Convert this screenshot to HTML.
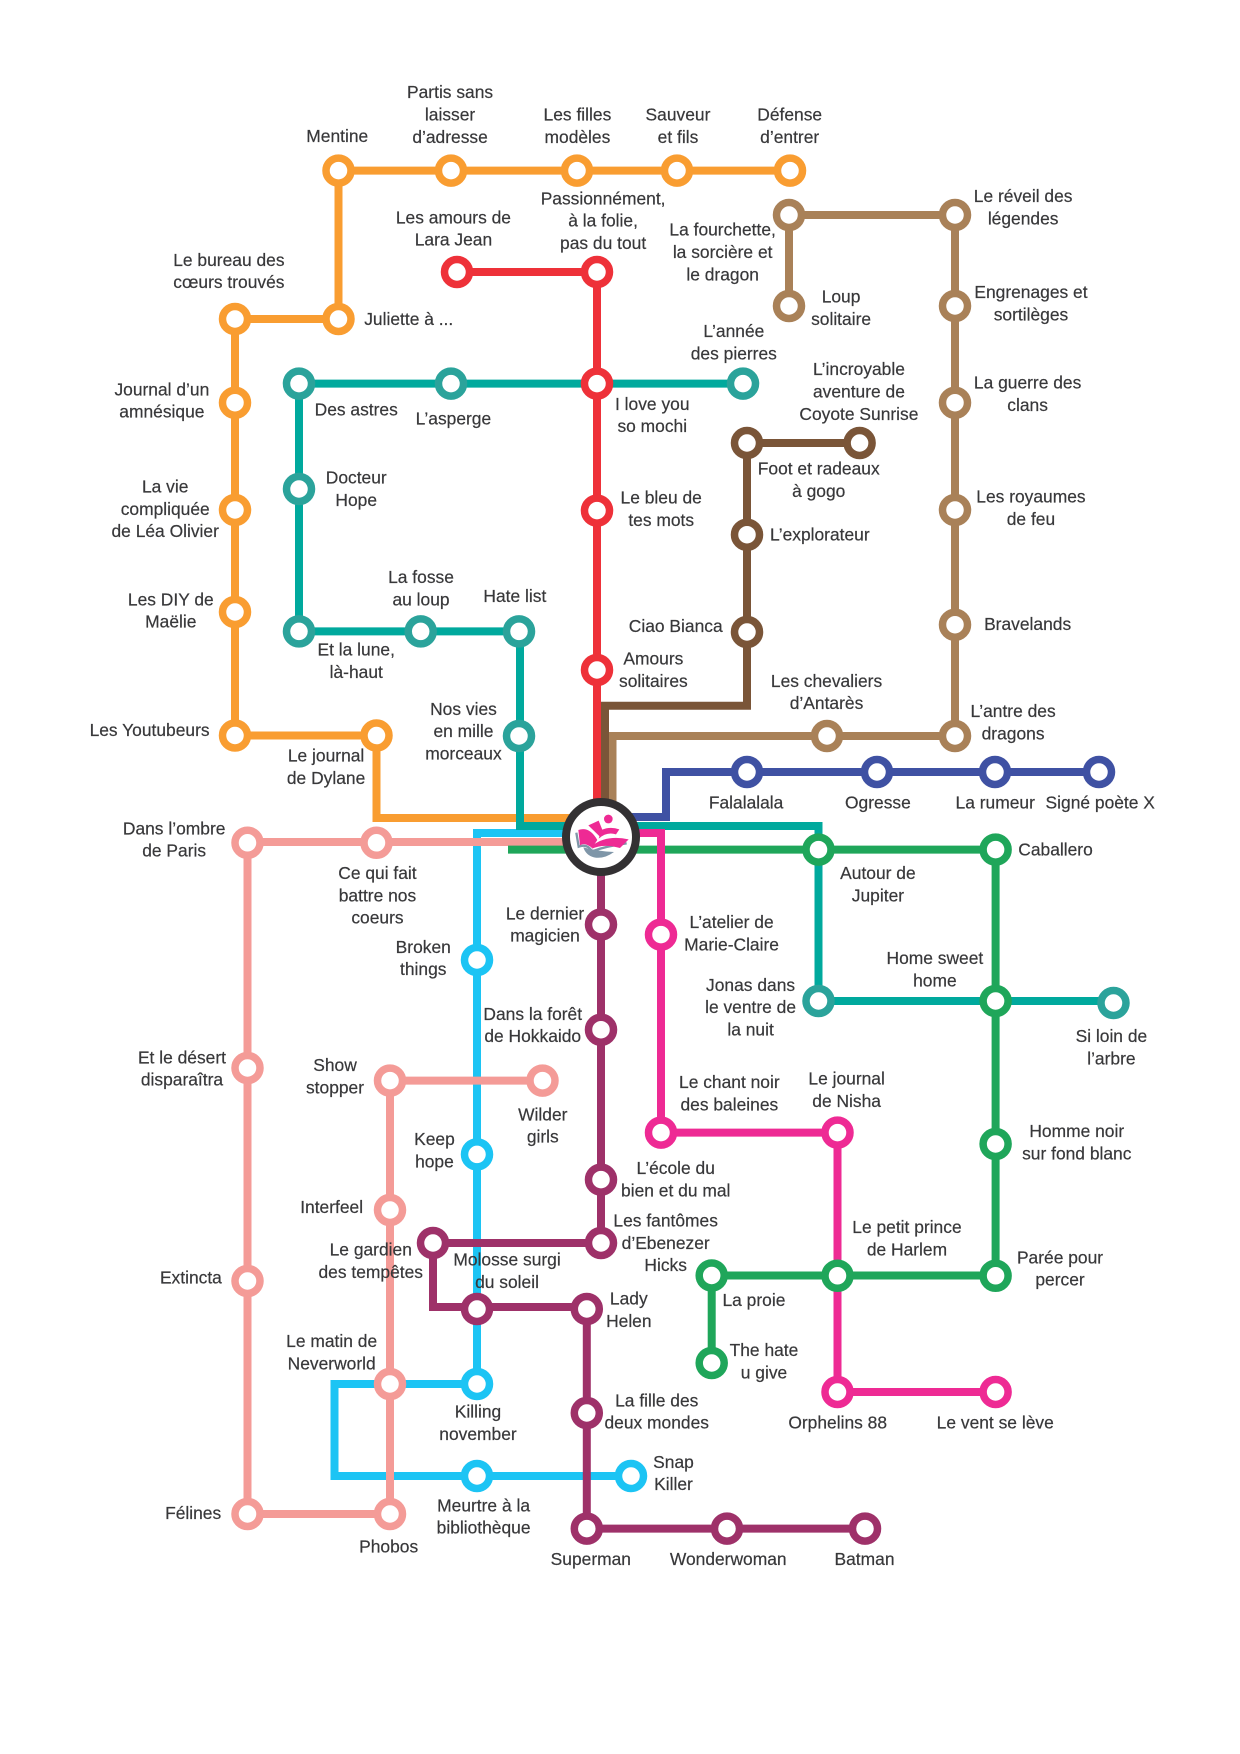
<!DOCTYPE html>
<html lang="fr">
<head>
<meta charset="utf-8">
<title>Plan de lecture</title>
<style>
html,body{margin:0;padding:0;background:#fff}
svg{display:block}
text{font-family:"Liberation Sans",sans-serif;font-size:15.6px;fill:#38383a;stroke:#38383a;stroke-width:.18px;text-anchor:middle}
.l{fill:none;stroke-width:8;stroke-linejoin:miter}
.n{fill:#fff;stroke-width:7.5}
</style>
</head>
<body>
<svg xmlns="http://www.w3.org/2000/svg" width="1240" height="1754" viewBox="0 0 1240 1754">
<!-- lines -->
<g class="l">
<path stroke="#1cc4f4" class="l" d="M570 833H477V1384H334.500V1476H631"/>
<path stroke="#f49b97" class="l" d="M570 842H247.500V1514H390V1080.600H542.500"/>
<path stroke="#f99d31" class="l" d="M790 170.600H338.500V319H235V735.500H376.500V818H570"/>
<path stroke="#ee3139" class="l" d="M457 272H597V800"/>
<path stroke="#00a99d" class="l" d="M743 383.600H299V631.400H520V826H570"/>
<path stroke="#a98158" class="l" d="M789 306V215H955V736H612.500V810"/>
<path stroke="#7a5538" class="l" d="M859.600 443H747V705.800H605V810"/>
<path stroke="#3f51a3" class="l" d="M1099 772H666V817H630"/>
<path stroke="#00a99d" class="l" d="M630 826H818.500V1001H1113.500"/>
<path stroke="#1fa65a" class="l" d="M630 849.600H995.600V1275.500H711.700V1363"/>
<path stroke="#1fa65a" class="l" d="M570 849.600H508"/>
<path stroke="#ee2a94" class="l" d="M630 833H661V1132.600H837.500V1392H995.600"/>
<path stroke="#9e3169" class="l" d="M601 870V1243H433V1307H586.800V1528.600H865"/>
</g>
<!-- stations -->
<g class="n" stroke="#f99d31">
<circle cx="338.500" cy="170.600" r="12.500"/><circle cx="451" cy="170.600" r="12.500"/><circle cx="577" cy="170.600" r="12.500"/><circle cx="677" cy="170.600" r="12.500"/><circle cx="790" cy="170.600" r="12.500"/>
<circle cx="338.500" cy="319" r="12.500"/><circle cx="235" cy="319" r="12.500"/><circle cx="235" cy="402.700" r="12.500"/><circle cx="235" cy="510" r="12.500"/><circle cx="235" cy="612" r="12.500"/><circle cx="235" cy="735.500" r="12.500"/><circle cx="376.500" cy="735.500" r="12.500"/>
</g>
<g class="n" stroke="#ee3139">
<circle cx="457" cy="272" r="12.500"/><circle cx="597" cy="272" r="12.500"/><circle cx="597" cy="383.600" r="12.500"/><circle cx="597" cy="510.600" r="12.500"/><circle cx="597" cy="670" r="12.500"/>
</g>
<g class="n" stroke="#2ba39b">
<circle cx="299" cy="383.600" r="12.500"/><circle cx="451" cy="383.600" r="12.500"/><circle cx="743" cy="383.600" r="12.500"/><circle cx="299" cy="489" r="12.500"/><circle cx="299" cy="631.400" r="12.500"/><circle cx="420.700" cy="631.400" r="12.500"/><circle cx="519" cy="631.400" r="12.500"/><circle cx="519" cy="736" r="12.500"/>
<circle cx="818.500" cy="1001" r="12.500"/><circle cx="1113.500" cy="1003" r="12.500"/>
</g>
<g class="n" stroke="#a98158">
<circle cx="789" cy="215" r="12.500"/><circle cx="955" cy="215" r="12.500"/><circle cx="789" cy="306" r="12.500"/><circle cx="955" cy="306" r="12.500"/><circle cx="955" cy="402.700" r="12.500"/><circle cx="955" cy="510" r="12.500"/><circle cx="955" cy="624.700" r="12.500"/><circle cx="955" cy="736" r="12.500"/><circle cx="827" cy="736" r="12.500"/>
</g>
<g class="n" stroke="#7a5538">
<circle cx="747" cy="443" r="12.500"/><circle cx="859.600" cy="443" r="12.500"/><circle cx="747" cy="534.700" r="12.500"/><circle cx="747" cy="632" r="12.500"/>
</g>
<g class="n" stroke="#3f51a3">
<circle cx="747" cy="772" r="12.500"/><circle cx="877" cy="772" r="12.500"/><circle cx="995" cy="772" r="12.500"/><circle cx="1099" cy="772" r="12.500"/>
</g>
<g class="n" stroke="#1fa65a">
<circle cx="818.500" cy="849.600" r="12.500"/><circle cx="995.600" cy="849.600" r="12.500"/><circle cx="995.600" cy="1001" r="12.500"/><circle cx="995.600" cy="1144" r="12.500"/><circle cx="995.600" cy="1275.800" r="12.500"/><circle cx="837.500" cy="1275.800" r="12.500"/><circle cx="711.700" cy="1275.500" r="12.500"/><circle cx="711.700" cy="1363" r="12.500"/>
</g>
<g class="n" stroke="#ee2a94">
<circle cx="661" cy="934.600" r="12.500"/><circle cx="661" cy="1132.600" r="12.500"/><circle cx="837.500" cy="1132.600" r="12.500"/><circle cx="837.500" cy="1392" r="12.500"/><circle cx="995.600" cy="1392" r="12.500"/>
</g>
<g class="n" stroke="#f49b97">
<circle cx="247.500" cy="842.800" r="12.500"/><circle cx="376.500" cy="842.800" r="12.500"/><circle cx="247.500" cy="1068" r="12.500"/><circle cx="247.500" cy="1281" r="12.500"/><circle cx="247.500" cy="1514" r="12.500"/><circle cx="390" cy="1514" r="12.500"/><circle cx="390" cy="1384" r="12.500"/><circle cx="390" cy="1210" r="12.500"/><circle cx="390" cy="1080.600" r="12.500"/><circle cx="542.500" cy="1080.600" r="12.500"/>
</g>
<g class="n" stroke="#1cc4f4">
<circle cx="477" cy="960" r="12.500"/><circle cx="477" cy="1154.400" r="12.500"/><circle cx="477" cy="1384" r="12.500"/><circle cx="477" cy="1476" r="12.500"/><circle cx="631" cy="1476" r="12.500"/>
</g>
<g class="n" stroke="#9e3169">
<circle cx="601" cy="924.500" r="12.500"/><circle cx="601" cy="1029.700" r="12.500"/><circle cx="601" cy="1179.600" r="12.500"/><circle cx="601" cy="1243" r="12.500"/><circle cx="433" cy="1243" r="12.500"/><circle cx="477" cy="1309" r="12.500"/><circle cx="586.800" cy="1309" r="12.500"/><circle cx="586.800" cy="1413" r="12.500"/><circle cx="586.800" cy="1528.600" r="12.500"/><circle cx="727" cy="1528.600" r="12.500"/><circle cx="865" cy="1528.600" r="12.500"/>
</g>
<!-- hub -->
<circle cx="601" cy="837" r="35" fill="#fff" stroke="#333133" stroke-width="8"/>
<g transform="translate(500 740) scale(.33333)">
<path d="M229 278L236 320Q262 310 276 334Q320 318 380 310" fill="none" stroke="#7f96a8" stroke-width="7"/>
<path d="M250 322Q295 334 342 336Q312 358 282 352Q258 346 250 322Z" fill="#7f96a8"/>
<path d="M265 256L296 242L308 272L302 292Z" fill="#ee2a94"/>
<path d="M235 270Q268 258 292 300L276 324Q255 306 240 316Z" fill="#ee2a94"/>
<path d="M278 316Q320 284 386 298L360 324Q310 310 276 326Z" fill="#ee2a94"/>
<path d="M304 270Q330 258 358 268L348 283Q320 274 296 296Z" fill="#ee2a94"/>
<circle cx="325" cy="237" r="13" fill="#ee2a94"/>
</g>
<!-- labels -->
<g transform="translate(1 1) scale(1.1171)">
<text x="301" y="126">Mentine</text>
<text x="402" y="87">Partis sans</text><text x="402" y="107">laisser</text><text x="402" y="127">d’adresse</text>
<text x="516" y="107">Les filles</text><text x="516" y="127">modèles</text>
<text x="606" y="107">Sauveur</text><text x="606" y="127">et fils</text>
<text x="706" y="107">Défense</text><text x="706" y="127">d’entrer</text>
<text x="915" y="180">Le réveil des</text><text x="915" y="200">légendes</text>
<text x="539" y="182">Passionnément,</text><text x="539" y="202">à la folie,</text><text x="539" y="222">pas du tout</text>
<text x="405" y="199">Les amours de</text><text x="405" y="219">Lara Jean</text>
<text x="646" y="210">La fourchette,</text><text x="646" y="230">la sorcière et</text><text x="646" y="250">le dragon</text>
<text x="752" y="270">Loup</text><text x="752" y="290">solitaire</text>
<text x="922" y="266">Engrenages et</text><text x="922" y="286">sortilèges</text>
<text x="204" y="237">Le bureau des</text><text x="204" y="257">cœurs trouvés</text>
<text x="365" y="290">Juliette à ...</text>
<text x="656" y="301">L’année</text><text x="656" y="321">des pierres</text>
<text x="768" y="335">L’incroyable</text><text x="768" y="355">aventure de</text><text x="768" y="375">Coyote Sunrise</text>
<text x="919" y="347">La guerre des</text><text x="919" y="367">clans</text>
<text x="144" y="353">Journal d’un</text><text x="144" y="373">amnésique</text>
<text x="318" y="371">Des astres</text>
<text x="405" y="379">L’asperge</text>
<text x="583" y="366">I love you</text><text x="583" y="386">so mochi</text>
<text x="732" y="424">Foot et radeaux</text><text x="732" y="444">à gogo</text>
<text x="318" y="432">Docteur</text><text x="318" y="452">Hope</text>
<text x="147" y="440">La vie</text><text x="147" y="460">compliquée</text><text x="147" y="480">de Léa Olivier</text>
<text x="591" y="450">Le bleu de</text><text x="591" y="470">tes mots</text>
<text x="922" y="449">Les royaumes</text><text x="922" y="469">de feu</text>
<text x="733" y="483">L’explorateur</text>
<text x="376" y="521">La fosse</text><text x="376" y="541">au loup</text>
<text x="460" y="538">Hate list</text>
<text x="152" y="541">Les DIY de</text><text x="152" y="561">Maëlie</text>
<text x="604" y="565">Ciao Bianca</text>
<text x="919" y="563">Bravelands</text>
<text x="318" y="586">Et la lune,</text><text x="318" y="606">là-haut</text>
<text x="584" y="594">Amours</text><text x="584" y="614">solitaires</text>
<text x="739" y="614">Les chevaliers</text><text x="739" y="634">d’Antarès</text>
<text x="414" y="639">Nos vies</text><text x="414" y="659">en mille</text><text x="414" y="679">morceaux</text>
<text x="906" y="641">L’antre des</text><text x="906" y="661">dragons</text>
<text x="133" y="658">Les Youtubeurs</text>
<text x="291" y="681">Le journal</text><text x="291" y="701">de Dylane</text>
<text x="667" y="723">Falalalala</text><text x="785" y="723">Ogresse</text><text x="890" y="723">La rumeur</text><text x="984" y="723">Signé poète X</text>
<text x="155" y="746">Dans l’ombre</text><text x="155" y="766">de Paris</text>
<text x="944" y="765">Caballero</text>
<text x="337" y="786">Ce qui fait</text><text x="337" y="806">battre nos</text><text x="337" y="826">coeurs</text>
<text x="785" y="786">Autour de</text><text x="785" y="806">Jupiter</text>
<text x="487" y="822">Le dernier</text><text x="487" y="842">magicien</text>
<text x="654" y="830">L’atelier de</text><text x="654" y="850">Marie-Claire</text>
<text x="378" y="852">Broken</text><text x="378" y="872">things</text>
<text x="836" y="862">Home sweet</text><text x="836" y="882">home</text>
<text x="671" y="886">Jonas dans</text><text x="671" y="906">le ventre de</text><text x="671" y="926">la nuit</text>
<text x="476" y="912">Dans la forêt</text><text x="476" y="932">de Hokkaido</text>
<text x="994" y="932">Si loin de</text><text x="994" y="952">l’arbre</text>
<text x="162" y="951">Et le désert</text><text x="162" y="971">disparaîtra</text>
<text x="299" y="958">Show</text><text x="299" y="978">stopper</text>
<text x="652" y="973">Le chant noir</text><text x="652" y="993">des baleines</text>
<text x="757" y="970">Le journal</text><text x="757" y="990">de Nisha</text>
<text x="485" y="1002">Wilder</text><text x="485" y="1022">girls</text>
<text x="963" y="1017">Homme noir</text><text x="963" y="1037">sur fond blanc</text>
<text x="388" y="1024">Keep</text><text x="388" y="1044">hope</text>
<text x="604" y="1050">L’école du</text><text x="604" y="1070">bien et du mal</text>
<text x="296" y="1085">Interfeel</text>
<text x="595" y="1097">Les fantômes</text><text x="595" y="1117">d’Ebenezer</text><text x="595" y="1137">Hicks</text>
<text x="811" y="1103">Le petit prince</text><text x="811" y="1123">de Harlem</text>
<text x="331" y="1123">Le gardien</text><text x="331" y="1143">des tempêtes</text>
<text x="453" y="1132">Molosse surgi</text><text x="453" y="1152">du soleil</text>
<text x="948" y="1130">Parée pour</text><text x="948" y="1150">percer</text>
<text x="170" y="1148">Extincta</text>
<text x="562" y="1167">Lady</text><text x="562" y="1187">Helen</text>
<text x="674" y="1168">La proie</text>
<text x="683" y="1213">The hate</text><text x="683" y="1233">u give</text>
<text x="296" y="1205">Le matin de</text><text x="296" y="1225">Neverworld</text>
<text x="587" y="1258">La fille des</text><text x="587" y="1278">deux mondes</text>
<text x="427" y="1268">Killing</text><text x="427" y="1288">november</text>
<text x="749" y="1278">Orphelins 88</text>
<text x="890" y="1278">Le vent se lève</text>
<text x="602" y="1313">Snap</text><text x="602" y="1333">Killer</text>
<text x="432" y="1352">Meurtre à la</text><text x="432" y="1372">bibliothèque</text>
<text x="172" y="1359">Félines</text>
<text x="347" y="1389">Phobos</text>
<text x="528" y="1400">Superman</text><text x="651" y="1400">Wonderwoman</text><text x="773" y="1400">Batman</text>
</g>
</svg>
</body>
</html>
